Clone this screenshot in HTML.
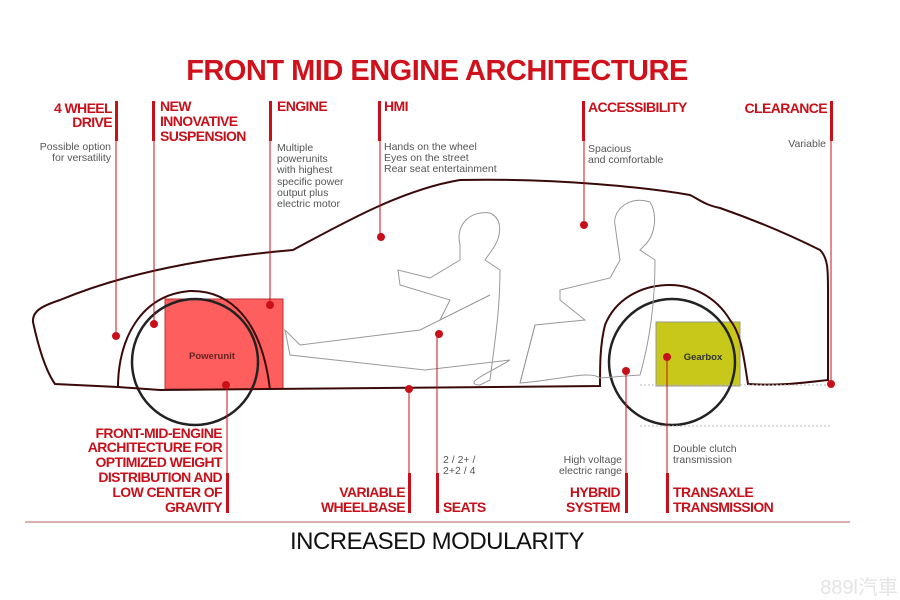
<!DOCTYPE html>
<html><head><meta charset="utf-8"><style>
html,body{margin:0;padding:0;background:#fff;width:900px;height:600px;overflow:hidden}
svg{display:block}
.t{font-family:"Liberation Sans",sans-serif;font-weight:bold;fill:#c8101a;font-size:14px;letter-spacing:-0.6px}
.d{font-family:"Liberation Sans",sans-serif;fill:#555;font-size:10.5px}
</style></head><body>
<svg width="900" height="600" viewBox="0 0 900 600" xmlns="http://www.w3.org/2000/svg">
<text x="437" y="80" text-anchor="middle" font-family="Liberation Sans,sans-serif" font-weight="bold" font-size="29" fill="#d0101a" letter-spacing="-0.5">FRONT MID ENGINE ARCHITECTURE</text>

<rect x="165" y="299" width="118" height="90" fill="#ff5e5e" stroke="#b33" stroke-width="1"/>
<text x="212" y="359" text-anchor="middle" font-family="Liberation Sans,sans-serif" font-weight="bold" font-size="9.5" fill="#622">Powerunit</text>
<rect x="656" y="322" width="84" height="64" fill="#c8c81a" stroke="#998" stroke-width="1"/>
<text x="703" y="360" text-anchor="middle" font-family="Liberation Sans,sans-serif" font-weight="bold" font-size="9.5" fill="#333">Gearbox</text>

<circle cx="195" cy="362" r="63" fill="none" stroke="#222" stroke-width="2.5"/>
<circle cx="672" cy="362" r="63" fill="none" stroke="#222" stroke-width="2.5"/>

<path d="M118,387 L55,384 C45,370 38,345 33,322 C32,310 45,305 60,300 C120,275 200,258 293,250 C340,225 400,190 460,180 C560,178 650,188 690,195 C700,200 705,205 720,208 C760,222 790,235 820,250 C828,258 828,270 828,290 L828,380 C800,383 780,386 748,384 C744,360 742,335 730,320 C715,295 690,285 670,285 C640,285 615,300 605,325 C600,345 600,365 600,386 L160,390 L118,387 Z" fill="none" stroke="#3a0a0a" stroke-width="2"/>
<path d="M118,387 C118,340 140,295 190,291 C230,290 262,320 270,390" fill="none" stroke="#3a0a0a" stroke-width="2"/>

<line x1="640" y1="385" x2="830" y2="385" stroke="#bbb" stroke-dasharray="2,2"/>
<line x1="640" y1="426" x2="830" y2="426" stroke="#bbb" stroke-dasharray="2,2"/>

<g fill="none" stroke="#999" stroke-width="1">
<path d="M460,245 C455,225 470,210 490,213 C505,220 500,240 492,250 L485,260 L500,270 C500,310 495,340 490,380 L480,385 C460,384 495,370 510,360 L425,370 L290,355 L285,330 L300,345 L420,330 L440,320 L450,300 L400,285 L398,270 L430,278 L460,260 Z"/>
<path d="M615,225 C612,210 630,195 650,202 C658,215 655,235 645,245 L640,250 L655,260 C655,300 650,340 640,375 L600,378 C590,370 560,380 520,383 L535,325 L585,320 L560,300 L560,290 L610,278 L620,260 Z"/>
<path d="M535,325 L520,383 M490,295 L440,320"/>
</g>

<g stroke="#c8101a" stroke-width="1">
<line x1="116" y1="101" x2="116" y2="336"/>
<line x1="154" y1="101" x2="154" y2="324"/>
<line x1="270" y1="101" x2="270" y2="305"/>
<line x1="380" y1="101" x2="380" y2="237"/>
<line x1="584" y1="101" x2="584" y2="225"/>
<line x1="831" y1="101" x2="831" y2="384"/>
<line x1="227" y1="383" x2="227" y2="513"/>
<line x1="409" y1="389" x2="409" y2="513"/>
<line x1="437" y1="334" x2="437" y2="513"/>
<line x1="626" y1="371" x2="626" y2="513"/>
<line x1="667" y1="357" x2="667" y2="513"/>
</g>
<g fill="#c8101a">
<rect x="115" y="101" width="3" height="40"/><rect x="152" y="101" width="3" height="40"/>
<rect x="269" y="101" width="3" height="40"/><rect x="378" y="101" width="3" height="40"/>
<rect x="582" y="101" width="3" height="40"/><rect x="830" y="101" width="3" height="40"/>
<rect x="226" y="473" width="3" height="40"/><rect x="408" y="473" width="3" height="40"/>
<rect x="436" y="473" width="3" height="40"/><rect x="625" y="473" width="3" height="40"/>
<rect x="666" y="473" width="3" height="40"/>
<circle cx="116" cy="336" r="4"/><circle cx="154" cy="324" r="4"/><circle cx="270" cy="305" r="4"/>
<circle cx="381" cy="237" r="4"/><circle cx="584" cy="225" r="4"/><circle cx="831" cy="384" r="4"/>
<circle cx="226" cy="385" r="4"/><circle cx="409" cy="389" r="4"/><circle cx="439" cy="334" r="4"/>
<circle cx="626" cy="371" r="4"/><circle cx="667" cy="357" r="4"/>
</g>

<text class="t" x="112" y="113" text-anchor="end">4 WHEEL</text>
<text class="t" x="112" y="127" text-anchor="end">DRIVE</text>
<text class="d" x="111" y="150" text-anchor="end">Possible option</text>
<text class="d" x="111" y="161" text-anchor="end">for versatility</text>
<text class="t" x="160" y="111">NEW</text>
<text class="t" x="160" y="126">INNOVATIVE</text>
<text class="t" x="160" y="141">SUSPENSION</text>
<text class="t" x="277" y="111">ENGINE</text>
<g class="d"><text x="277" y="151">Multiple</text><text x="277" y="162">powerunits</text><text x="277" y="173">with highest</text><text x="277" y="185">specific power</text><text x="277" y="196">output plus</text><text x="277" y="207">electric motor</text></g>
<text class="t" x="384" y="111">HMI</text>
<g class="d"><text x="384" y="150">Hands on the wheel</text><text x="384" y="161">Eyes on the street</text><text x="384" y="172">Rear seat entertainment</text></g>
<text class="t" x="588" y="112">ACCESSIBILITY</text>
<g class="d"><text x="588" y="152">Spacious</text><text x="588" y="163">and comfortable</text></g>
<text class="t" x="827" y="113" text-anchor="end">CLEARANCE</text>
<text class="d" x="826" y="147" text-anchor="end">Variable</text>

<g class="t" text-anchor="end">
<text x="222" y="438">FRONT-MID-ENGINE</text><text x="222" y="452">ARCHITECTURE FOR</text><text x="222" y="467">OPTIMIZED WEIGHT</text><text x="222" y="482">DISTRIBUTION AND</text><text x="222" y="497">LOW CENTER OF</text><text x="222" y="512">GRAVITY</text>
<text x="405" y="497">VARIABLE</text><text x="405" y="512">WHEELBASE</text>
<text x="620" y="497">HYBRID</text><text x="620" y="512">SYSTEM</text>
</g>
<text class="t" x="443" y="512">SEATS</text>
<text class="t" x="673" y="497">TRANSAXLE</text>
<text class="t" x="673" y="512">TRANSMISSION</text>
<text class="d" x="443" y="463">2 / 2+ /</text><text class="d" x="443" y="474">2+2 / 4</text>
<text class="d" x="622" y="463" text-anchor="end">High voltage</text><text class="d" x="622" y="474" text-anchor="end">electric range</text>
<text class="d" x="673" y="452">Double clutch</text><text class="d" x="673" y="463">transmission</text>

<line x1="25" y1="522" x2="850" y2="522" stroke="#c99" stroke-width="1.5"/>
<text x="437" y="549" text-anchor="middle" font-family="Liberation Sans,sans-serif" font-size="24" fill="#111" letter-spacing="-0.5">INCREASED MODULARITY</text>
<text x="898" y="594" text-anchor="end" font-family="Liberation Sans,'Noto Sans CJK TC',sans-serif" font-size="20" fill="#e4e4e4">889l汽車</text>
</svg>
</body></html>
